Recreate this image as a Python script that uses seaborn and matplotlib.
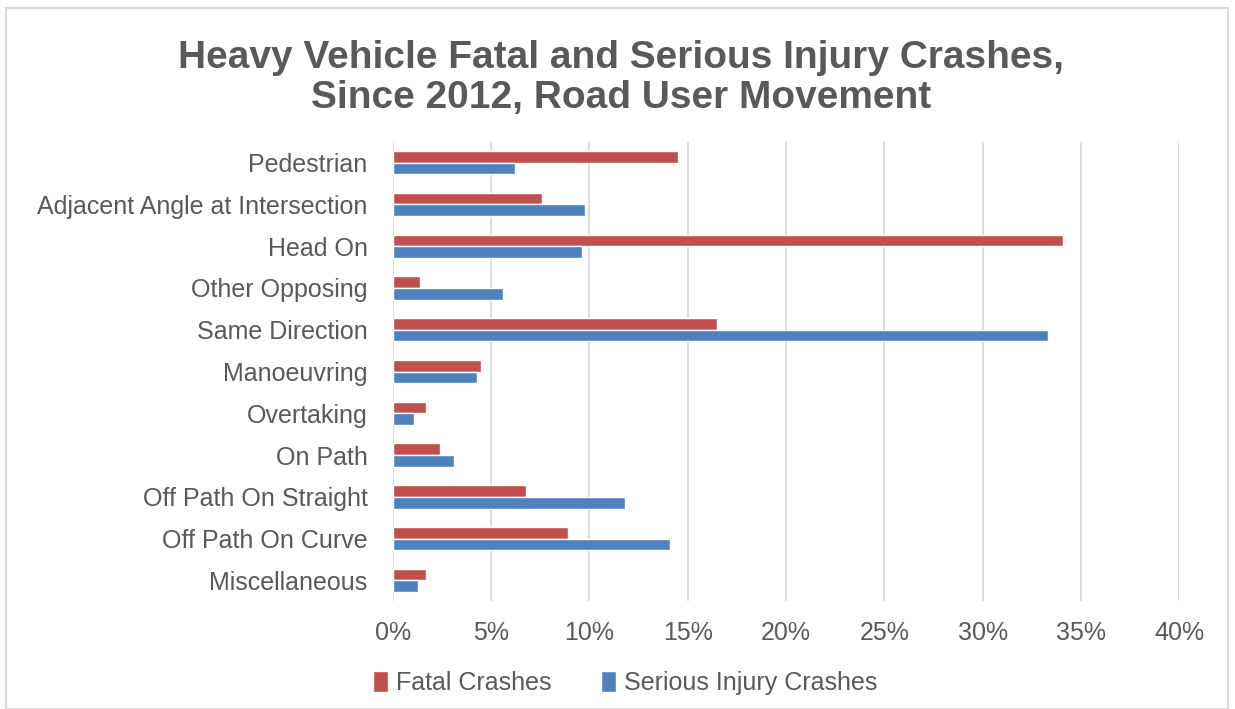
import pandas as pd
import matplotlib.pyplot as plt
import seaborn as sns
from matplotlib.ticker import FuncFormatter, MultipleLocator
from matplotlib.patches import Rectangle

# data (percent of crashes)
categories = ["Pedestrian", "Adjacent Angle at Intersection", "Head On", "Other Opposing",
              "Same Direction", "Manoeuvring", "Overtaking", "On Path",
              "Off Path On Straight", "Off Path On Curve", "Miscellaneous"]
fatal = [14.5, 7.6, 34.1, 1.4, 16.5, 4.5, 1.7, 2.4, 6.8, 8.9, 1.7]
serious = [6.2, 9.8, 9.6, 5.6, 33.3, 4.3, 1.1, 3.1, 11.8, 14.1, 1.3]
series_names = ["Fatal Crashes", "Serious Injury Crashes"]
colors = ["#C0504D", "#4F81BD"]

df = pd.DataFrame({
    "Movement": categories * 2,
    "Share": fatal + serious,
    "Series": [series_names[0]] * len(categories) + [series_names[1]] * len(categories),
})

sns.set_style("white")
plt.rcParams['font.family'] = ['Liberation Sans', 'DejaVu Sans']
text_col = "#595959"

fig = plt.figure(figsize=(12.35, 7.09), dpi=100)
ax = fig.add_axes([0.318, 0.152, 0.637, 0.648])

sns.barplot(data=df, y="Movement", x="Share", hue="Series", order=categories,
            hue_order=series_names, palette=colors, orient="h", width=0.56,
            saturation=1, errorbar=None, ax=ax, legend=True)

ax.set_xlim(0, 40)
ax.xaxis.set_major_locator(MultipleLocator(5))
ax.xaxis.set_major_formatter(FuncFormatter(lambda v, p: f"{v:.0f}%"))
ax.grid(axis="x", color="#D9D9D9", linewidth=1.3)
ax.set_axisbelow(True)
for s in ax.spines.values():
    s.set_visible(False)
ax.tick_params(axis="both", length=0, labelsize=18, colors=text_col)
ax.tick_params(axis="x", pad=14)
ax.tick_params(axis="y", pad=18)
ax.set_xlabel("")
ax.set_ylabel("")

# legend at the bottom of the figure
handles, labels = ax.get_legend_handles_labels()
ax.get_legend().remove()
fig.legend(handles, labels, loc="center", bbox_to_anchor=(625 / 1235, 1 - 683 / 709),
           ncol=2, frameon=False, fontsize=18, labelcolor=text_col,
           handlelength=0.6, handleheight=0.9, handletextpad=0.3, columnspacing=2.0)

fig.text(0.503, 1 - 78 / 709, "Heavy Vehicle Fatal and Serious Injury Crashes,\nSince 2012, Road User Movement",
         ha="center", va="center", fontsize=28, fontweight="bold", color=text_col, linespacing=1.17)

# outer chart frame
fig.patches.append(Rectangle((6 / 1235, 0), 1222 / 1235, 1 - 8 / 709, transform=fig.transFigure,
                             fill=False, edgecolor="#D9D9D9", linewidth=1.5))

fig.savefig("out.png", dpi=100)
